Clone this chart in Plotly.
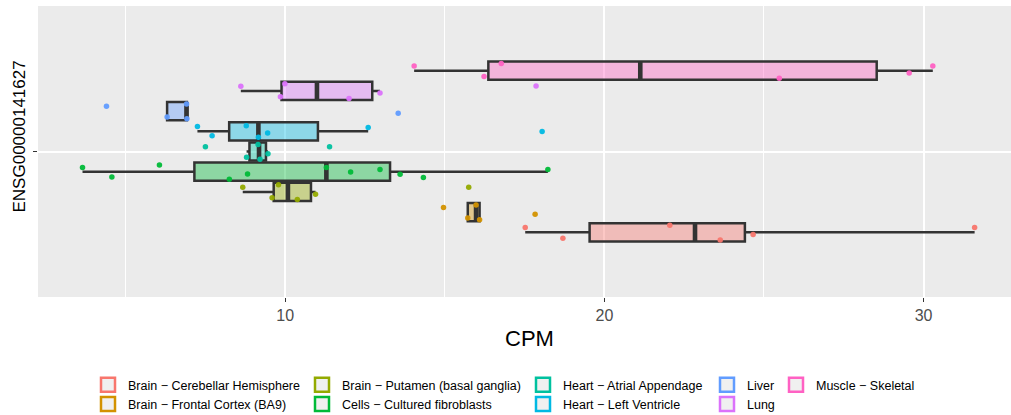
import numpy as np
import plotly.graph_objects as go

gene = "ENSG00000141627"
axis_title = "CPM"
tick_values = [10, 20, 30]

tissues = [
    "Brain − Cerebellar Hemisphere",
    "Brain − Frontal Cortex (BA9)",
    "Brain − Putamen (basal ganglia)",
    "Cells − Cultured fibroblasts",
    "Heart − Atrial Appendage",
    "Heart − Left Ventricle",
    "Liver",
    "Lung",
    "Muscle − Skeletal",
]
colors = ["#F8766D", "#D39200", "#93AA00", "#00BA38", "#00C19F",
          "#00B9E3", "#619CFF", "#DB72FB", "#FF61C3"]

cpm_cerebellar = [17.52, 18.70, 22.05, 23.63, 24.66, 31.60]
cpm_frontal = [14.96, 15.72, 15.98, 16.09, 17.83]
cpm_putamen = [8.67, 9.59, 9.79, 10.38, 10.95, 15.75]
cpm_fibroblasts = [3.65, 4.57, 6.06, 8.25, 8.82, 11.29, 12.05, 12.97, 13.60, 14.33, 18.23]
cpm_atrial = [7.50, 8.79, 9.15, 9.21, 9.46, 11.39]
cpm_ventricle = [7.25, 7.71, 8.78, 9.16, 9.45, 12.60, 18.05]
cpm_liver = [4.40, 6.30, 6.91, 6.92, 13.54]
cpm_lung = [8.61, 9.85, 9.99, 12.00, 12.97, 17.86]
cpm_muscle = [14.04, 16.23, 16.77, 25.48, 29.55, 30.29]

series = [cpm_cerebellar, cpm_frontal, cpm_putamen, cpm_fibroblasts, cpm_atrial,
          cpm_ventricle, cpm_liver, cpm_lung, cpm_muscle]

legend_ids = ["legend", "legend", "legend2", "legend2", "legend3", "legend3",
              "legend4", "legend4", "legend5"]

FONT = "Liberation Sans, Arial, Helvetica, sans-serif"


def rgba(hex_color, a):
    h = hex_color.lstrip("#")
    r, g, b = int(h[0:2], 16), int(h[2:4], 16), int(h[4:6], 16)
    return f"rgba({r},{g},{b},{a})"


def tukey_stats(vals):
    v = np.sort(np.asarray(vals, dtype=float))
    q1, med, q3 = np.quantile(v, [0.25, 0.5, 0.75])  # R type 7
    iqr = q3 - q1
    lo = v[v >= q1 - 1.5 * iqr].min()
    hi = v[v <= q3 + 1.5 * iqr].max()
    return float(q1), float(med), float(q3), float(lo), float(hi)


fig = go.Figure()
# boxes (ggplot-style stats)
for i, (name, col, vals) in enumerate(zip(tissues, colors, series)):
    q1, med, q3, lo, hi = tukey_stats(vals)
    fig.add_trace(go.Box(
        y=[gene], q1=[q1], median=[med], q3=[q3], lowerfence=[lo], upperfence=[hi],
        name=name, orientation="h", offsetgroup=f"g{i}", boxpoints=False,
        whiskerwidth=0, fillcolor=rgba(col, 0.4),
        line=dict(color="#333333", width=2.5),
        showlegend=False, hoverinfo="skip",
    ))

# thicker median bar (ggplot's fatten = 2)
for i, (name, vals) in enumerate(zip(tissues, series)):
    q1, med, q3, lo, hi = tukey_stats(vals)
    fig.add_trace(go.Box(
        y=[gene], q1=[med], median=[med], q3=[med], lowerfence=[med], upperfence=[med],
        name=name, orientation="h", offsetgroup=f"g{i}", boxpoints=False,
        whiskerwidth=0, fillcolor="rgba(0,0,0,0)",
        line=dict(color="#333333", width=4.6),
        showlegend=False, hoverinfo="skip",
    ))

# jittered sample points (box itself made invisible)
for i, (name, col, vals) in enumerate(zip(tissues, colors, series)):
    fig.add_trace(go.Box(
        x=vals, y=[gene] * len(vals), name=name, orientation="h",
        offsetgroup=f"g{i}", boxpoints="all", jitter=1.0, pointpos=0,
        whiskerwidth=0, fillcolor="rgba(0,0,0,0)",
        line=dict(color="rgba(0,0,0,0)", width=0),
        marker=dict(color=col, size=5.5, opacity=0.95),
        showlegend=False,
    ))

# legend keys
for name, col, lg in zip(tissues, colors, legend_ids):
    fig.add_trace(go.Scatter(
        x=[None], y=[None], mode="markers", name=name, legend=lg,
        marker=dict(symbol="square", size=14, color="#F0F0F0",
                    line=dict(color=col, width=2.5)),
        showlegend=True, hoverinfo="skip",
    ))

W, H = 1011, 415
ml, mt, mb = 38, 6, 118
pw = W - ml
ph = H - mt - mb


def px_x(px):
    return (px - ml) / pw


def px_y(py):
    return (H - mb - py) / ph


legend_cols_px = [50, 264, 485, 669, 738]
legend_top_px = 370
common_legend = dict(orientation="v", xanchor="left", yanchor="top",
                     xref="container", yref="container",
                     font=dict(family=FONT, size=12.5, color="#000000"),
                     bgcolor="rgba(0,0,0,0)", borderwidth=0, tracegroupgap=0,
                     itemclick=False, itemdoubleclick=False)
legends = {}
for i, key in enumerate(["legend", "legend2", "legend3", "legend4", "legend5"]):
    legends[key] = dict(common_legend, x=(legend_cols_px[i] + ml) / W,
                        y=1 - legend_top_px / H)

fig.update_layout(
    width=W, height=H,
    margin=dict(l=ml, r=0, t=mt, b=mb, pad=0, autoexpand=False),
    paper_bgcolor="white", plot_bgcolor="#EBEBEB",
    boxmode="group", boxgap=0.25, boxgroupgap=0.1,
    font=dict(family=FONT, color="#4D4D4D"),
    **legends,
    xaxis=dict(
        range=[2.255, 32.74], tickvals=tick_values,
        ticks="outside", ticklen=4, tickwidth=1.2, tickcolor="#333333",
        ticklabelstandoff=0,
        tickfont=dict(family=FONT, size=16, color="#4D4D4D"),
        showgrid=True, gridcolor="white", gridwidth=1.6, zeroline=False,
        minor=dict(tickvals=[5, 15, 25], showgrid=True, gridcolor="white", gridwidth=0.8, ticks=""),
        showline=False,
    ),
    yaxis=dict(
        type="category", range=[-0.6, 0.6], showticklabels=False,
        ticks="outside", ticklen=4, tickwidth=1.2, tickcolor="#333333",
        showgrid=True, gridcolor="white", gridwidth=1.6, zeroline=False,
    ),
    annotations=[
        dict(text=axis_title, xref="paper", yref="paper", x=px_x(529), y=px_y(338.5),
             xanchor="center", yanchor="middle", showarrow=False,
             font=dict(family=FONT, size=22, color="#000000")),
        dict(text=gene, xref="paper", yref="paper", x=px_x(18.5), y=px_y(137),
             xanchor="center", yanchor="middle", showarrow=False, textangle=-90,
             font=dict(family=FONT, size=17, color="#000000")),
    ],
)

fig.write_html("out.html")
